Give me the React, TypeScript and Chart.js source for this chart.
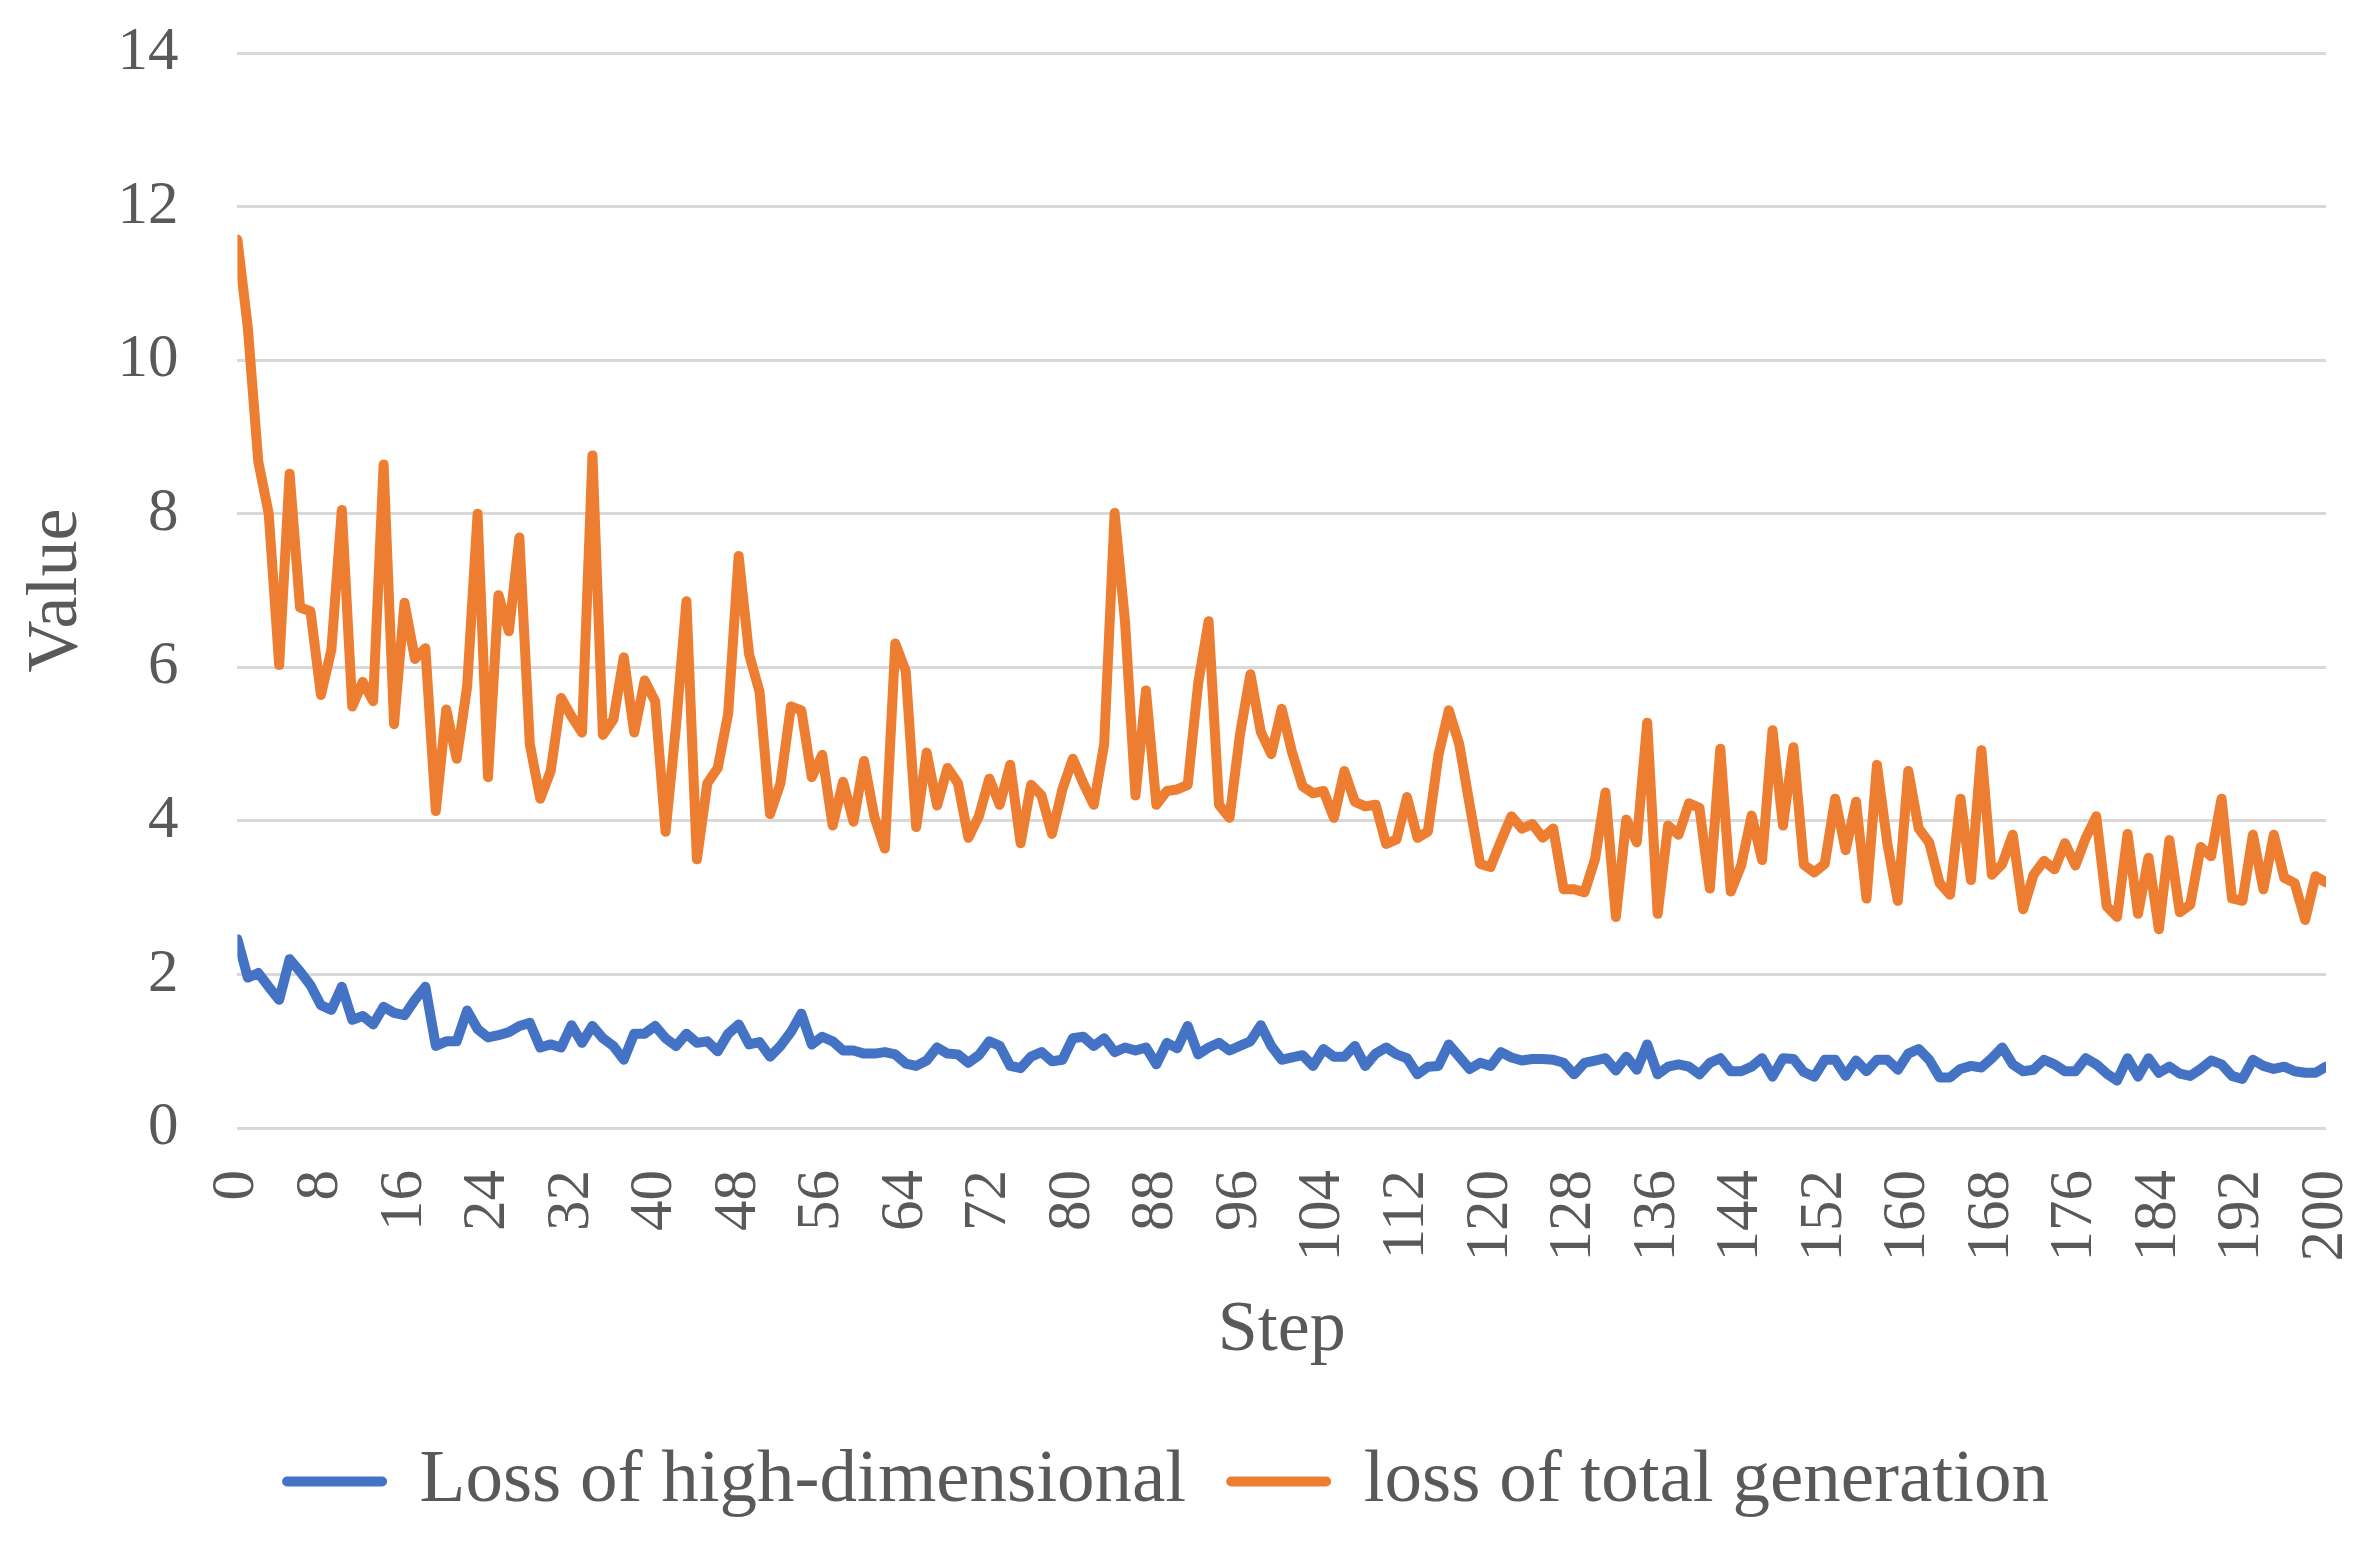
import React, { useEffect, useRef } from "react";
import { Chart, registerables } from "chart.js";

Chart.register(...registerables);

const seriesNames = ["Loss of high-dimensional", "loss of total generation"];

const lossHigh = [
  2.46, 1.96, 2.02, 1.84, 1.67, 2.20, 2.04, 1.86, 1.60, 1.54,
  1.84, 1.41, 1.46, 1.35, 1.58, 1.50, 1.47, 1.67, 1.84, 1.07,
  1.13, 1.13, 1.53, 1.29, 1.18, 1.21, 1.25, 1.33, 1.37, 1.05,
  1.09, 1.05, 1.34, 1.11, 1.33, 1.17, 1.07, 0.89, 1.23, 1.23,
  1.33, 1.17, 1.07, 1.23, 1.11, 1.13, 1.00, 1.23, 1.35, 1.09,
  1.12, 0.93, 1.07, 1.25, 1.49, 1.09, 1.19, 1.13, 1.01, 1.01,
  0.97, 0.97, 0.99, 0.96, 0.84, 0.81, 0.88, 1.05, 0.97, 0.96,
  0.85, 0.95, 1.13, 1.07, 0.81, 0.78, 0.93, 0.99, 0.87, 0.89,
  1.17, 1.19, 1.07, 1.17, 0.99, 1.05, 1.01, 1.05, 0.83, 1.11,
  1.04, 1.33, 0.96, 1.05, 1.11, 1.01, 1.07, 1.13, 1.34, 1.07,
  0.89, 0.92, 0.95, 0.81, 1.03, 0.93, 0.93, 1.07, 0.81, 0.97,
  1.05, 0.96, 0.91, 0.70, 0.80, 0.81, 1.09, 0.93, 0.77, 0.85,
  0.81, 0.99, 0.92, 0.88, 0.90, 0.90, 0.89, 0.85, 0.70, 0.85,
  0.88, 0.91, 0.75, 0.93, 0.76, 1.09, 0.70, 0.80, 0.83, 0.80,
  0.70, 0.85, 0.91, 0.74, 0.74, 0.80, 0.91, 0.67, 0.91, 0.90,
  0.73, 0.67, 0.89, 0.89, 0.68, 0.88, 0.74, 0.89, 0.89, 0.76,
  0.97, 1.03, 0.89, 0.66, 0.66, 0.77, 0.81, 0.79, 0.91, 1.05,
  0.83, 0.74, 0.76, 0.89, 0.83, 0.74, 0.74, 0.91, 0.83, 0.71,
  0.62, 0.91, 0.67, 0.91, 0.72, 0.80, 0.71, 0.68, 0.77, 0.88,
  0.83, 0.68, 0.64, 0.89, 0.81, 0.77, 0.80, 0.74, 0.72, 0.72,
  0.80,
];

const lossTotal = [
  11.57, 10.42, 8.68, 8.0, 6.03, 8.52, 6.78, 6.73, 5.64, 6.23,
  8.05, 5.49, 5.81, 5.56, 8.64, 5.26, 6.84, 6.11, 6.25, 4.13,
  5.45, 4.81, 5.75, 8.0, 4.57, 6.94, 6.47, 7.69, 5.0, 4.29,
  4.65, 5.60, 5.36, 5.15, 8.76, 5.12, 5.32, 6.13, 5.15, 5.83,
  5.56, 3.86, 5.24, 6.86, 3.50, 4.49, 4.69, 5.40, 7.45, 6.17,
  5.68, 4.09, 4.49, 5.49, 5.44, 4.57, 4.86, 3.94, 4.51, 3.99,
  4.78, 4.05, 3.64, 6.31, 5.95, 3.92, 4.89, 4.20, 4.69, 4.49,
  3.78, 4.06, 4.55, 4.21, 4.73, 3.71, 4.47, 4.33, 3.83, 4.41,
  4.81, 4.49, 4.21, 5.0, 8.01, 6.59, 4.33, 5.70, 4.21, 4.39,
  4.41, 4.47, 5.79, 6.60, 4.21, 4.04, 5.12, 5.91, 5.16, 4.87,
  5.46, 4.89, 4.45, 4.36, 4.39, 4.04, 4.65, 4.25, 4.19, 4.21,
  3.70, 3.76, 4.31, 3.78, 3.86, 4.85, 5.44, 5.0, 4.21, 3.44,
  3.40, 3.74, 4.06, 3.90, 3.96, 3.78, 3.90, 3.11, 3.11, 3.07,
  3.50, 4.37, 2.75, 4.02, 3.72, 5.28, 2.79, 3.94, 3.82, 4.23,
  4.17, 3.12, 4.94, 3.08, 3.42, 4.07, 3.49, 5.18, 3.94, 4.96,
  3.43, 3.33, 3.44, 4.29, 3.62, 4.25, 2.99, 4.73, 3.70, 2.96,
  4.65, 3.90, 3.72, 3.19, 3.04, 4.29, 3.23, 4.92, 3.30, 3.44,
  3.82, 2.85, 3.30, 3.48, 3.37, 3.71, 3.42, 3.78, 4.06, 2.89,
  2.75, 3.83, 2.79, 3.52, 2.59, 3.75, 2.81, 2.91, 3.66, 3.54,
  4.29, 2.99, 2.96, 3.82, 3.11, 3.82, 3.26, 3.19, 2.71, 3.28,
  3.20,
];

const xTickValues = [0, 8, 16, 24, 32, 40, 48, 56, 64, 72, 80, 88, 96, 104, 112, 120, 128, 136, 144, 152, 160, 168, 176, 184, 192, 200];
const yTickValues = [0, 2, 4, 6, 8, 10, 12, 14];

const xTitle = "Step";
const yTitle = "Value";

const BLUE = "#4472C4";
const ORANGE = "#ED7D31";
const TEXT = "#595959";
const GRID = "#D9D9D9";
const FONT = "'Liberation Serif', 'Times New Roman', serif";

export default function App() {
  const canvasRef = useRef<HTMLCanvasElement | null>(null);

  useEffect(() => {
    if (!canvasRef.current) return;
    const toPoints = (arr: number[]) => arr.map((v, i) => ({ x: i, y: v }));
    const chart = new Chart(canvasRef.current, {
      type: "line",
      data: {
        datasets: [
          {
            label: seriesNames[0],
            data: toPoints(lossHigh),
            borderColor: BLUE,
            backgroundColor: BLUE,
            borderWidth: 10,
            pointRadius: 0,
            tension: 0,
            borderJoinStyle: "round",
            borderCapStyle: "round",
          },
          {
            label: seriesNames[1],
            data: toPoints(lossTotal),
            borderColor: ORANGE,
            backgroundColor: ORANGE,
            borderWidth: 10,
            pointRadius: 0,
            tension: 0,
            borderJoinStyle: "round",
            borderCapStyle: "round",
          },
        ],
      },
      options: {
        animation: false,
        responsive: true,
        maintainAspectRatio: false,
        devicePixelRatio: 1,
        layout: { padding: { left: 10, right: 42, top: 53, bottom: 21 } },
        plugins: {
          tooltip: { enabled: false },
          legend: {
            position: "bottom",
            labels: {
              boxWidth: 95,
              boxHeight: 0,
              padding: 45,
              color: TEXT,
              font: { family: FONT, size: 75 },
            },
          },
        },
        scales: {
          x: {
            type: "linear",
            min: 0,
            max: 200,
            afterBuildTicks: (scale: any) => {
              scale.ticks = xTickValues.map((v) => ({ value: v }));
            },
            grid: { display: false, drawTicks: true, tickLength: 40, tickColor: "transparent" },
            border: { display: false },
            ticks: {
              autoSkip: false,
              minRotation: 90,
              maxRotation: 90,
              padding: 2,
              color: TEXT,
              font: { family: FONT, size: 61, lineHeight: 0.6 },
            },
            title: {
              display: true,
              text: xTitle,
              color: TEXT,
              font: { family: FONT, size: 72 },
              padding: { top: 24, bottom: 25 },
            },
          },
          y: {
            min: 0,
            max: 14,
            afterBuildTicks: (scale: any) => {
              scale.ticks = yTickValues.map((v) => ({ value: v }));
            },
            grid: { color: GRID, lineWidth: 3, drawTicks: true, tickLength: 50, tickColor: "transparent" },
            border: { display: false },
            ticks: {
              padding: 9,
              color: TEXT,
              font: { family: FONT, size: 61 },
            },
            title: {
              display: true,
              text: yTitle,
              color: TEXT,
              font: { family: FONT, size: 72 },
              padding: { top: 4, bottom: 8 },
            },
          },
        },
      },
    });
    return () => chart.destroy();
  }, []);

  return (
    <div style={{ position: "fixed", left: 0, top: 0, width: 2368, height: 1550, background: "#fff" }}>
      <canvas ref={canvasRef} />
    </div>
  );
}
